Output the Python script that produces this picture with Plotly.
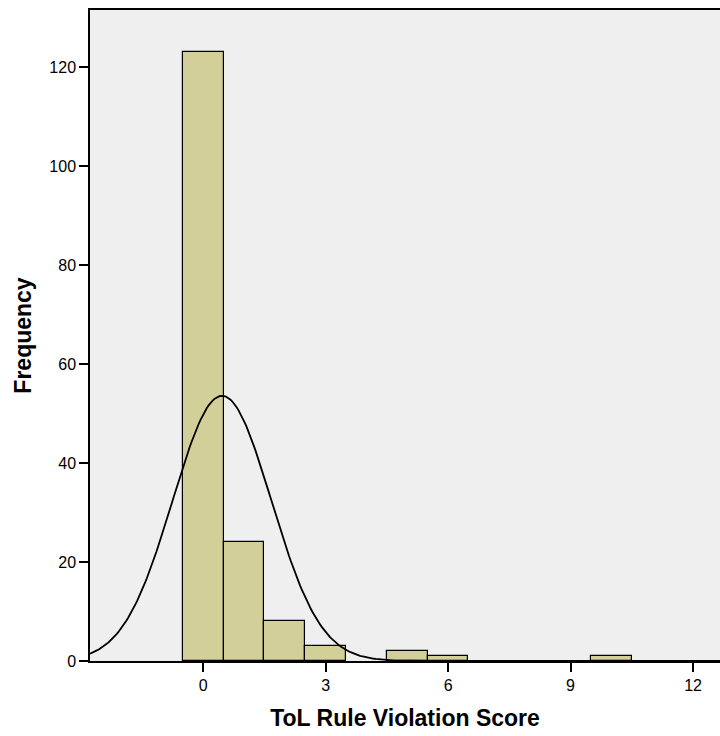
import numpy as np
import plotly.graph_objects as go

# Data
scores = [0, 1, 2, 3, 5, 6, 10]
counts = [123, 24, 8, 3, 2, 1, 1]
x_ticks = [0, 3, 6, 9, 12]
y_ticks = [0, 20, 40, 60, 80, 100, 120]

# Normal curve fitted to the data (mean/sd of the scores)
vals = np.repeat(scores, counts)
n = len(vals)
mu = vals.mean()
sd = vals.std(ddof=1)
x_range = [-2.77, 12.66]
xc = np.linspace(x_range[0], x_range[1], 400)
yc = n * 1.0 / (sd * np.sqrt(2 * np.pi)) * np.exp(-0.5 * ((xc - mu) / sd) ** 2)

fig = go.Figure()
fig.add_trace(go.Bar(
    x=scores, y=counts, width=1,
    marker=dict(color="#d3cf98", line=dict(color="black", width=1.2)),
    hoverinfo="x+y",
))
fig.add_trace(go.Scatter(
    x=xc, y=yc, mode="lines",
    line=dict(color="black", width=1.8),
    hoverinfo="skip",
))

fig.update_layout(
    width=720, height=736,
    margin=dict(l=90, r=0, t=10, b=75),
    paper_bgcolor="white",
    plot_bgcolor="#efefef",
    showlegend=False,
    bargap=0,
    font=dict(family="Liberation Sans, Arial, sans-serif", color="black", size=16),
)
fig.update_xaxes(
    range=x_range, tickvals=x_ticks, ticktext=[str(t) for t in x_ticks],
    showgrid=False, zeroline=False,
    showline=True, linecolor="black", linewidth=1.5, mirror=True,
    ticks="outside", ticklen=9, tickwidth=1.5, tickcolor="black",
    tickfont=dict(size=16),
    title=dict(text="<b>ToL Rule Violation Score</b>", font=dict(size=23), standoff=17),
)
fig.update_yaxes(
    range=[0, 131.5], tickvals=y_ticks, ticktext=[str(t) for t in y_ticks],
    showgrid=False, zeroline=False,
    showline=True, linecolor="black", linewidth=1.5,
    ticks="outside", ticklen=9, tickwidth=1.5, tickcolor="black",
    tickfont=dict(size=16),
    title=dict(text="<b>Frequency</b>", font=dict(size=23), standoff=11),
)

fig.write_html(
    "out.html",
    config={"displayModeBar": False},
    post_script="document.body.style.margin='0';document.body.style.overflow='hidden';",
)
